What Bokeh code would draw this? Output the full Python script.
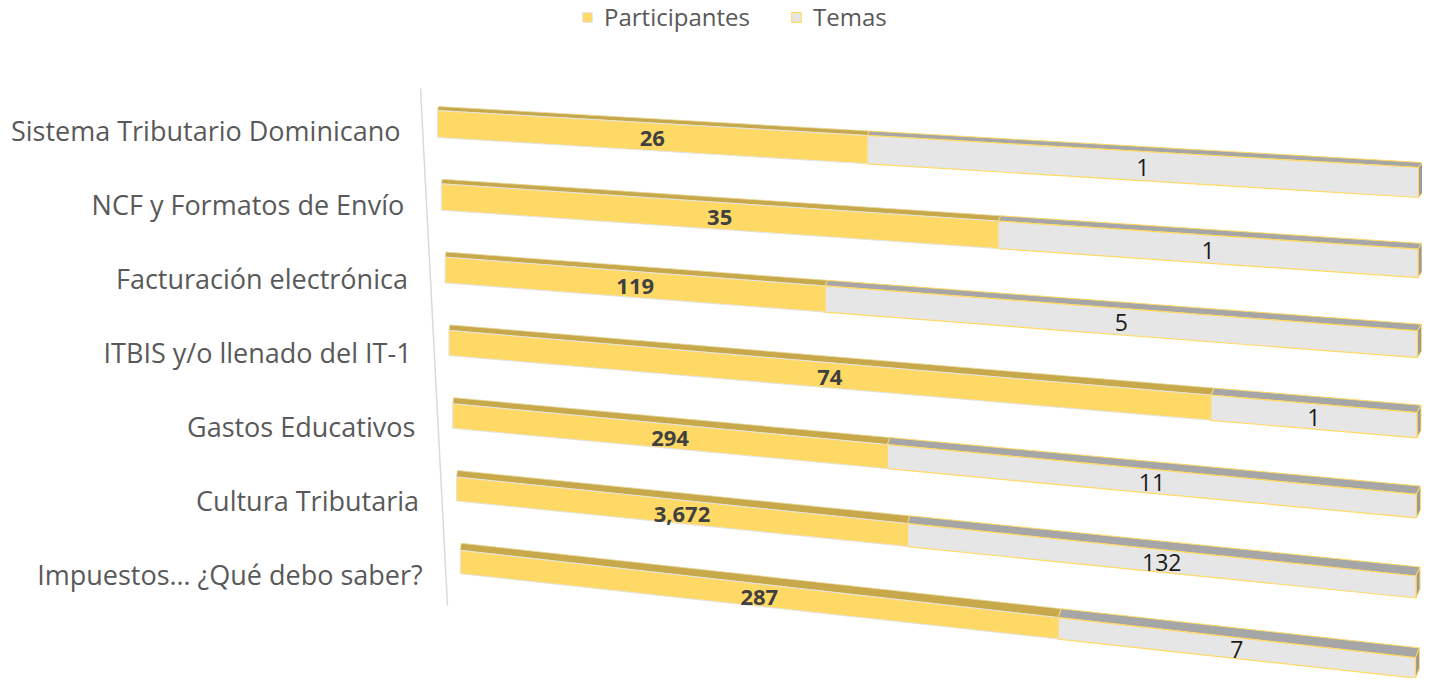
from bokeh.plotting import figure
from bokeh.models import Range1d, Legend, LegendItem, ColumnDataSource
from bokeh.core.properties import value
from bokeh.embed import file_html
from bokeh.resources import INLINE

# ---------------- data ----------------
categorias = [
    "Sistema Tributario Dominicano",
    "NCF y Formatos de Envío",
    "Facturación electrónica",
    "ITBIS y/o llenado del IT-1",
    "Gastos Educativos",
    "Cultura Tributaria",
    "Impuestos… ¿Qué debo saber?",
]
participantes = [26, 35, 119, 74, 294, 3672, 287]
temas = [1, 1, 5, 1, 11, 132, 7]
# share of each 100 % stacked bar (percent), as drawn in the chart
participantes_pct = [43.8, 57.0, 39.1, 78.7, 45.1, 47.0, 62.6]
temas_pct = [56.2, 43.0, 60.9, 21.3, 54.9, 53.0, 37.4]

# ---------------- 3-D projection (style) ----------------
def bar_geom(i):
    return dict(
        xl=437 + 3.8 * i, xr=1418 - 0.5 * i,
        ytl=110 + 73.3 * i, ytr=167 + 81.7 * i,
        hl=27 - 0.6 * i, hr=30 - 1.6 * i,
        dl=4 + 0.5 * i, dr=5 + 0.8 * i,
        wl=1.0, wr=4.0,
    )

def at(g, f):
    x = g["xl"] + f * (g["xr"] - g["xl"])
    yt = g["ytl"] + f * (g["ytr"] - g["ytl"])
    h = g["hl"] + f * (g["hr"] - g["hl"])
    d = g["dl"] + f * (g["dr"] - g["dl"])
    w = g["wl"] + f * (g["wr"] - g["wl"])
    return x, yt, h, d, w

series = [("Participantes", participantes_pct, participantes),
          ("Temas", temas_pct, temas)]

faces = {s[0]: dict(front_x=[], front_y=[], top_x=[], top_y=[]) for s in series}
side_x, side_y = [], []
lab_p = dict(x=[], y=[], t=[])
lab_t = dict(x=[], y=[], t=[])

for i in range(len(categorias)):
    g = bar_geom(i)
    start = 0.0
    for k, (name, pct, counts) in enumerate(series):
        f0 = start
        f1 = start + pct[i] / 100.0
        x0, y0, h0, d0, w0 = at(g, f0)
        x1, y1, h1, d1, w1 = at(g, f1)
        faces[name]["front_x"].append([x0, x1, x1, x0])
        faces[name]["front_y"].append([y0, y1, y1 + h1, y0 + h0])
        faces[name]["top_x"].append([x0, x1, x1 + w1, x0 + w0])
        faces[name]["top_y"].append([y0, y1, y1 - d1, y0 - d0])
        fc = (f0 + f1) / 2
        xc, yc, hc, _, _ = at(g, fc)
        lab = lab_p if k == 0 else lab_t
        lab["x"].append(xc)
        lab["y"].append(yc + hc / 2 + (2 if k == 0 else 1))
        lab["t"].append(f"{counts[i]:,}")
        start = f1
    x1, y1, h1, d1, w1 = at(g, 1.0)
    side_x.append([x1, x1 + w1, x1 + w1, x1])
    side_y.append([y1, y1 - d1, y1 + h1 - d1, y1 + h1])

# ---------------- figure ----------------
p = figure(width=1422, height=678, x_range=Range1d(0, 1422), y_range=Range1d(678, 0),
           output_backend="svg", toolbar_location=None, min_border=0)
p.axis.visible = False
p.grid.visible = False
p.outline_line_color = None
p.background_fill_color = "white"

# slanted category axis line
p.segment(x0=[420], y0=[88], x1=[447], y1=[605], line_color="#D9D9D9", line_width=1.5)

YEL, YEL_TOP = "#FFD966", "#C7A84B"
GRY, GRY_TOP, GRY_SIDE = "#E7E6E6", "#A6A6A6", "#9A9A9A"

p.patches(xs=faces["Participantes"]["top_x"], ys=faces["Participantes"]["top_y"],
          fill_color=YEL_TOP, line_color="#E9D89A", line_width=0.8)
p.patches(xs=faces["Temas"]["top_x"], ys=faces["Temas"]["top_y"],
          fill_color=GRY_TOP, line_color=YEL, line_width=1)
p.patches(xs=side_x, ys=side_y, fill_color=GRY_SIDE, line_color=YEL, line_width=1)
r_p = p.patches(xs=faces["Participantes"]["front_x"], ys=faces["Participantes"]["front_y"],
                fill_color=YEL, line_color="#E3E3E3", line_width=1)
r_t = p.patches(xs=faces["Temas"]["front_x"], ys=faces["Temas"]["front_y"],
                fill_color=GRY, line_color=YEL, line_width=1.2)

# value labels
p.text(x="x", y="y", text="t", source=ColumnDataSource(lab_p),
       text_font=value("Open Sans"), text_font_size="22px", text_font_style="bold",
       text_color="#404040", text_align="center", text_baseline="middle")
p.text(x="x", y="y", text="t", source=ColumnDataSource(lab_t),
       text_font=value("Open Sans"), text_font_size="23px",
       text_color="#1A1A1A", text_align="center", text_baseline="middle")

# category labels
cat_src = ColumnDataSource(dict(
    x=[400 + 3.7 * i for i in range(len(categorias))],
    y=[130 + 74.0 * i for i in range(len(categorias))],
    t=categorias))
p.text(x="x", y="y", text="t", source=cat_src,
       text_font=value("Open Sans"), text_font_size="27px",
       text_color="#595959", text_align="right", text_baseline="middle")

legend = Legend(items=[LegendItem(label="Participantes", renderers=[r_p]),
                       LegendItem(label="Temas", renderers=[r_t])],
                orientation="horizontal", location=(581, 645),
                glyph_width=12, glyph_height=12, label_standoff=11, spacing=40,
                padding=0, margin=0, border_line_alpha=0, background_fill_alpha=0,
                label_text_font="Open Sans", label_text_font_size="24px",
                label_text_color="#595959")
p.add_layout(legend, "center")

open("out.html", "w").write(file_html(p, INLINE))
